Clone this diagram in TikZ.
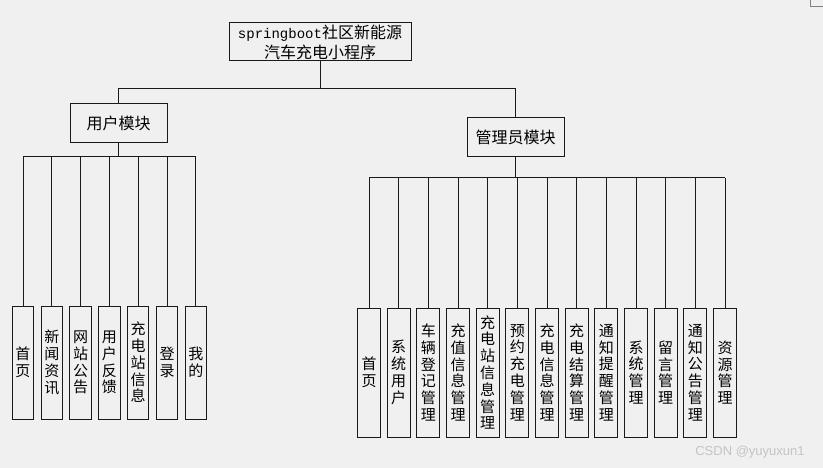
\documentclass[tikz,border=0pt]{standalone}
\usepackage{fontspec}
\setmainfont{Noto Sans CJK SC}
\newfontfamily\latinmono{Liberation Mono}
\newfontfamily\wmfont{Liberation Sans}
\definecolor{bgc}{HTML}{F0F0F0}
\definecolor{linec}{HTML}{1A1A1A}
\definecolor{wmc}{HTML}{C4C4C4}
\tikzset{
  box/.style={draw=linec, line width=1pt, fill=bgc, inner sep=0pt, align=center},
  rootbox/.style={box, minimum width=182pt, minimum height=38pt, font=\fontsize{16}{20}\selectfont},
  modbox/.style={box, minimum width=97pt, minimum height=39pt, font=\fontsize{16}{20}\selectfont},
  uleaf/.style={box, minimum width=21.5pt, minimum height=113pt, font=\fontsize{15}{16.8}\selectfont},
  aleaf/.style={box, minimum width=23pt, minimum height=129pt, font=\fontsize{15}{16.8}\selectfont},
  conn/.style={draw=linec, line width=1pt},
}
\begin{document}
\begin{tikzpicture}[x=1pt,y=-1pt]
\useasboundingbox (0,0) rectangle (823,468);
\fill[bgc] (0,0) rectangle (823,468);
% top-right corner fragment
\draw[gray, line width=0.8pt] (810,0) -- (810,6) -- (823,6);

\node[rootbox] (root) at (320,42) {{\latinmono\fontsize{14}{20}\selectfont springboot}社区新能源\\汽车充电小程序};
\node[modbox] (user) at (118.5,123.5) {用户模块};
\node[modbox] (admin) at (515.5,137) {管理员模块};

\coordinate (topbus) at (0,89);
\coordinate (ubus) at (0,157);
\coordinate (abus) at (0,178);

\draw[conn] (root.south) -- (root.south|-topbus);
\draw[conn] (user.north) -- (user.north|-topbus) -- (admin.north|-topbus) -- (admin.north);

% user leaves
\foreach \t [count=\i from 0] in {{首\\页},{新\\闻\\资\\讯},{网\\站\\公\\告},{用\\户\\反\\馈},{充\\电\\站\\信\\息},{登\\录},{我\\的}}{
  \node[uleaf] (u\i) at ({23+28.8*\i},362.5) {\t};
  \draw[conn] (u\i.north) -- (u\i.north|-ubus);
}
\draw[conn] (user.south) -- (user.south|-ubus);
\draw[conn] (u0.north|-ubus) -- (u6.north|-ubus);

% admin leaves
\foreach \t [count=\i from 0] in {{首\\页},{系\\统\\用\\户},{车\\辆\\登\\记\\管\\理},{充\\值\\信\\息\\管\\理},{充\\电\\站\\信\\息\\管\\理},{预\\约\\充\\电\\管\\理},{充\\电\\信\\息\\管\\理},{充\\电\\结\\算\\管\\理},{通\\知\\提\\醒\\管\\理},{系\\统\\管\\理},{留\\言\\管\\理},{通\\知\\公\\告\\管\\理},{资\\源\\管\\理}}{
  \node[aleaf] (a\i) at ({369+29.67*\i},372.5) {\t};
  \draw[conn] (a\i.north) -- (a\i.north|-abus);
}
\draw[conn] (admin.south) -- (admin.south|-abus);
\draw[conn] (a0.north|-abus) -- (a12.north|-abus);

\node[text=wmc, font=\wmfont\fontsize{13}{14}\selectfont, inner sep=0pt] (wm) at (750,452) {CSDN @yuyuxun1};
\end{tikzpicture}
\end{document}
